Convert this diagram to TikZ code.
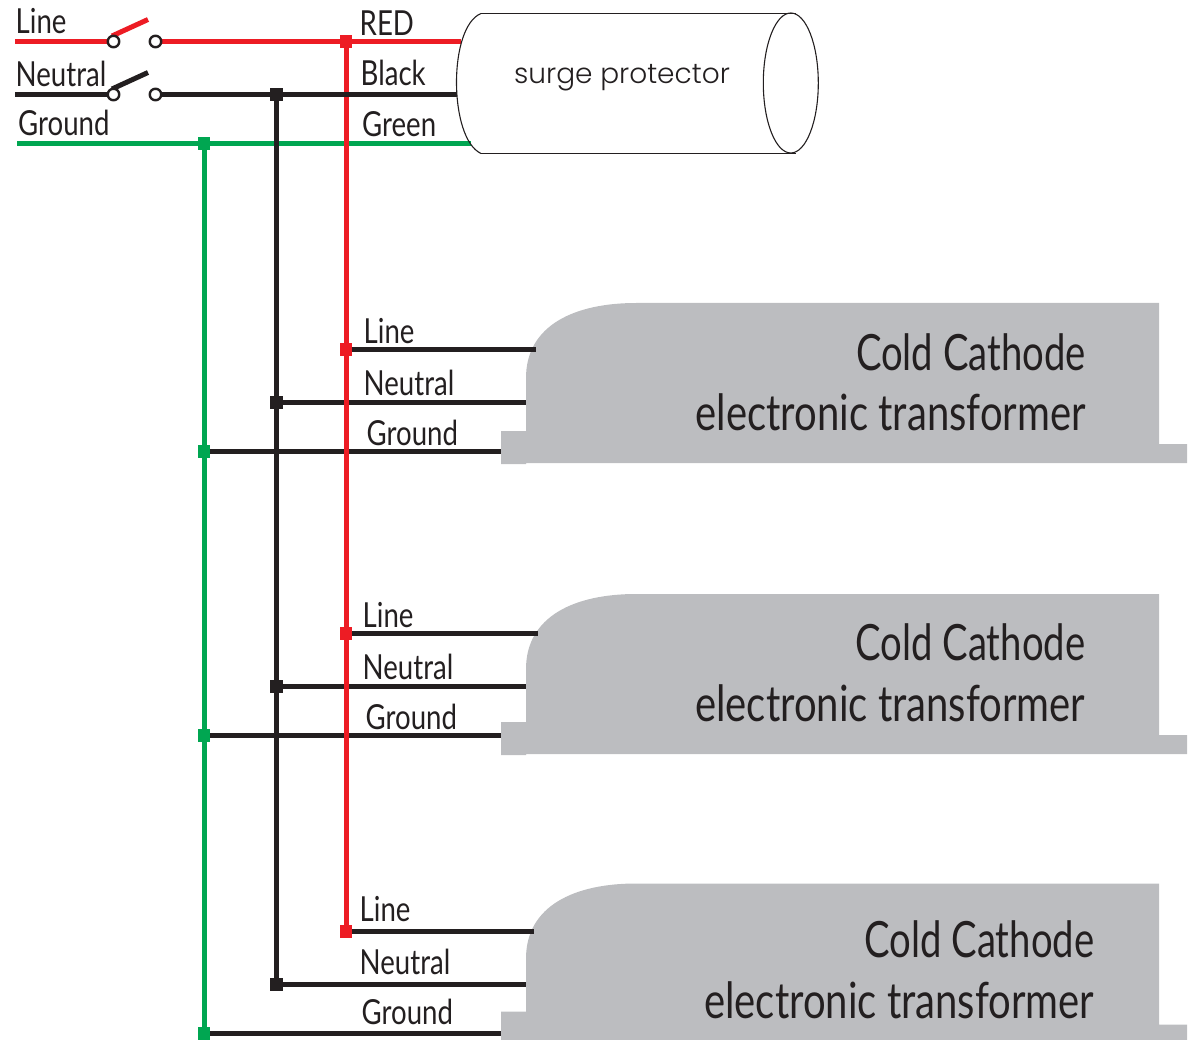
\documentclass[tikz,border=0pt]{standalone}
\usepackage{fontspec}
\setmainfont{Lato}
\newfontfamily\condfont[FakeStretch=0.8]{Lato}
\newfontfamily\narrowfont[FakeStretch=0.765]{Lato}
\newfontfamily\geofont{Poppins Light}[]
\definecolor{wirered}{HTML}{ED1C24}
\definecolor{wireblack}{HTML}{231F20}
\definecolor{wiregreen}{HTML}{00A651}
\definecolor{boxgray}{HTML}{BCBDC0}
\tikzset{
  wire/.style={line width=5pt},
  redwire/.style={wire,draw=wirered},
  blackwire/.style={wire,draw=wireblack},
  greenwire/.style={wire,draw=wiregreen},
  junction/.style={rectangle,inner sep=0pt,minimum width=12.5pt,minimum height=13pt},
  terminal/.style={circle,draw=wireblack,line width=2.4pt,fill=white,inner sep=0pt,minimum size=11.5pt},
  wirelabel/.style={anchor=base west,inner sep=0pt,text=wireblack,font=\condfont\fontsize{34.5}{34.5}\selectfont},
  boxlabel/.style={anchor=base east,inner sep=0pt,text=wireblack,font=\condfont\fontsize{50}{50}\selectfont},
  boxtitle/.style={anchor=base east,inner sep=0pt,text=wireblack,font=\narrowfont\fontsize{50}{50}\selectfont},
  cylinder line/.style={draw=wireblack,line width=1.1pt},
}
\begin{document}
\begin{tikzpicture}[x=1pt,y=-1pt]
\useasboundingbox (0,0) rectangle (1198,1040);
% transformers
\foreach \n/\dy in {a/0,b/291,c/580.5}{
  \begin{scope}[yshift=-\dy pt]
  \fill[boxgray] (636,303) -- (1159,303) -- (1159,444) -- (1187,444) -- (1187,463) -- (1159,463)
     -- (526,463) -- (526,464) -- (501,464) -- (501,431) -- (526,431) -- (526,378)
     .. controls (526,325) and (575,303) .. (636,303) -- cycle;
  \end{scope}
}
% coordinates
\coordinate (lineIn) at (15,41.5);
\coordinate (neutIn) at (15,94.5);
\coordinate (gndIn) at (17,143.5);
\coordinate (spR) at (461,41.5);
\coordinate (spB) at (457,94.5);
\coordinate (spG) at (471,143.5);
\coordinate (t1L) at (536,349.5);
\coordinate (t1N) at (526,402);
\coordinate (t1G) at (501,451);
\coordinate (t2L) at (538,633.5);
\coordinate (t2N) at (526,686);
\coordinate (t2G) at (501,735);
\coordinate (t3L) at (534,931);
\coordinate (t3N) at (526,984);
\coordinate (t3G) at (501,1033);
% junctions
\foreach \nm/\px/\py/\cc in {jg0/204/143.5/wiregreen,jg1/204/451/wiregreen,jg2/204/735/wiregreen,jg3/204/1033/wiregreen,
  jb0/276.5/94.5/wireblack,jb1/276.5/402/wireblack,jb2/276.5/686/wireblack,jb3/276.5/984/wireblack,
  jr0/346/41.5/wirered,jr1/346/349.5/wirered,jr2/346/633.5/wirered,jr3/346/931/wirered}{
  \coordinate (\nm) at (\px,\py);
}
% terminals positions
\coordinate (c1a) at (113.5,41.5);
\coordinate (c1b) at (155.5,41.5);
\coordinate (c2a) at (113.5,94.5);
\coordinate (c2b) at (155.5,94.5);
\coordinate (arm1) at (148,19.5);
\coordinate (arm2) at (148,72.5);
\coordinate (arm1s) at (112,36);
\coordinate (arm2s) at (112,89);
% input wires
\draw[greenwire] (gndIn) -- (spG);
\draw[redwire] (lineIn) -- (c1a);
\draw[blackwire] (neutIn) -- (c2a);
\draw[redwire] (c1b) -- (spR);
% branch wires
\draw[blackwire] (jr1) -- (t1L);
\draw[blackwire] (jb1) -- (t1N);
\draw[blackwire] (jg1) -- (t1G);
\draw[blackwire] (jr2) -- (t2L);
\draw[blackwire] (jb2) -- (t2N);
\draw[blackwire] (jg2) -- (t2G);
\draw[blackwire] (jr3) -- (t3L);
\draw[blackwire] (jb3) -- (t3N);
\draw[blackwire] (jg3) -- (t3G);
% bus wires
\draw[greenwire] (jg0) -- (jg3);
\draw[blackwire] (jb0) -- (jb3);
\draw[redwire] (jr0) -- (jr3);
\draw[blackwire] (c2b) -- (spB);
% junction squares
\foreach \nm/\cc in {jg0/wiregreen,jg1/wiregreen,jg2/wiregreen,jg3/wiregreen,jb0/wireblack,jb1/wireblack,jb2/wireblack,jb3/wireblack,jr0/wirered,jr1/wirered,jr2/wirered,jr3/wirered}{
  \node[junction,fill=\cc] (s\nm) at (\nm) {};
}
% switches
\draw[redwire] (arm1s) -- (arm1);
\draw[blackwire] (arm2s) -- (arm2);
\node[terminal] (ta1) at (c1a) {};
\node[terminal] (tb1) at (c1b) {};
\node[terminal] (ta2) at (c2a) {};
\node[terminal] (tb2) at (c2b) {};
% surge protector
\coordinate (cylTL) at (481,13.5);
\coordinate (cylBL) at (481,153.5);
\coordinate (cylTR) at (796,13.5);
\coordinate (cylBR) at (796,153.5);
\draw[cylinder line] (cylTL) -- (cylTR);
\draw[cylinder line] (cylBL) -- (cylBR);
\draw[cylinder line] (cylTL) .. controls (465,20) and (456.5,50) .. (456.5,82) .. controls (456.5,115) and (465,146) .. (cylBL);
\draw[cylinder line] (790.8,83) ellipse [x radius=27.5pt,y radius=70pt];
\node[anchor=base,inner sep=0pt,text=wireblack,font=\geofont\fontsize{28}{28}\selectfont] (sp) at (622,83.5) {surge protector};
% labels
\node[wirelabel] (l1) at (15.5,34) {Line};
\node[wirelabel] (l2) at (15.5,87) {Neutral};
\node[wirelabel] (l3) at (18,136) {Ground};
\node[wirelabel] (l4) at (359.5,36) {RED};
\node[wirelabel] (l5) at (360.5,85.5) {Black};
\node[wirelabel] (l6) at (362,136.5) {Green};
\node[wirelabel] (a1) at (363.5,343) {Line};
\node[wirelabel] (a2) at (363.5,395) {Neutral};
\node[wirelabel] (a3) at (366.5,445) {Ground};
\node[wirelabel] (b1) at (362.5,627) {Line};
\node[wirelabel] (b2) at (362.5,679) {Neutral};
\node[wirelabel] (b3) at (365.5,729) {Ground};
\node[wirelabel] (c1) at (359.5,921) {Line};
\node[wirelabel] (c2) at (359.5,974) {Neutral};
\node[wirelabel] (c3) at (361.5,1024) {Ground};
\node[boxtitle] (ta) at (1086,370) {Cold Cathode};
\node[boxlabel] (tb) at (1086,430) {electronic transformer};
\node[boxtitle] (tc) at (1085.5,660) {Cold Cathode};
\node[boxlabel] (td) at (1085.5,721) {electronic transformer};
\node[boxtitle] (te) at (1094.5,957) {Cold Cathode};
\node[boxlabel] (tf) at (1094.5,1018) {electronic transformer};
\end{tikzpicture}
\end{document}
